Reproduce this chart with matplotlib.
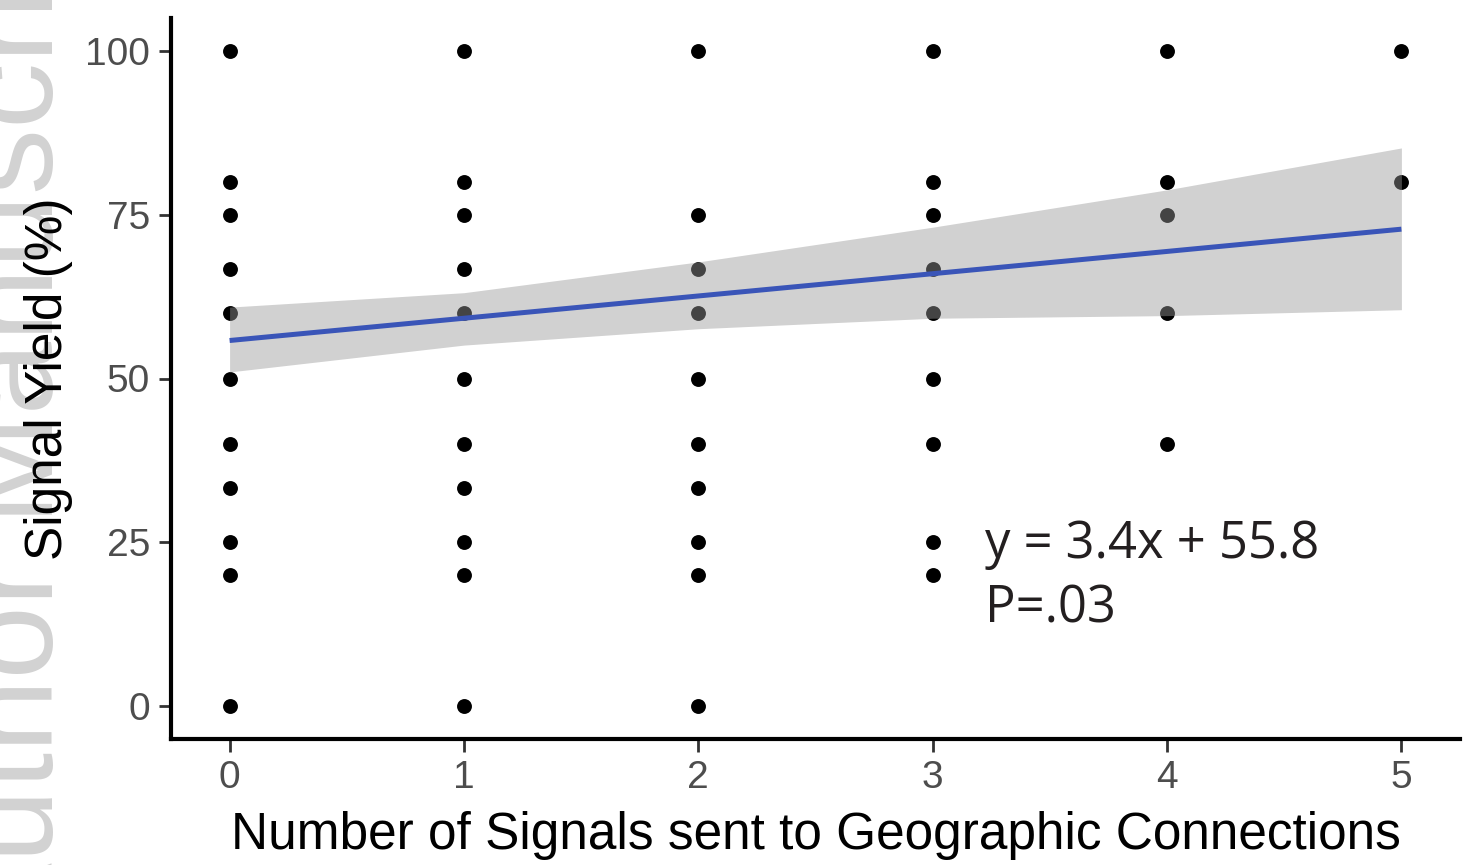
import matplotlib
matplotlib.use("Agg")
import matplotlib.pyplot as plt
import numpy as np

# ---- data ----
x0_vals = [100, 80, 75, 66.7, 60, 50, 40, 33.3, 25, 20, 0]
x1_vals = [100, 80, 75, 66.7, 60, 50, 40, 33.3, 25, 20, 0]
x2_vals = [100, 75, 66.7, 60, 50, 40, 33.3, 25, 20, 0]
x3_vals = [100, 80, 75, 66.7, 60, 50, 40, 25, 20]
x4_vals = [100, 80, 75, 60, 40]
x5_vals = [100, 80]
groups = [x0_vals, x1_vals, x2_vals, x3_vals, x4_vals, x5_vals]

fit_x = [0, 1, 2, 3, 4, 5]
slope = 3.4
intercept = 55.8
ci_upper = [60.9, 63.1, 67.8, 73.1, 78.8, 85.2]
ci_lower = [51.0, 55.1, 57.6, 59.2, 59.6, 60.5]

x_ticks = [0, 1, 2, 3, 4, 5]
y_ticks = [0, 25, 50, 75, 100]
x_label = "Number of Signals sent to Geographic Connections"
y_label = "Signal Yield (%)"
eq_line1 = "y = 3.4x + 55.8"
eq_line2 = "P=.03"
watermark = "Author Manuscript"

W, H = 1463, 865
fig = plt.figure(figsize=(W / 100, H / 100), dpi=100)
fig.patch.set_facecolor("white")

# faint watermark at the left edge, behind everything
fig.text(80 / W, 1 - 950 / H, watermark, rotation=90, ha="right", va="bottom",
         fontsize=95, color="#d2d2d2", family="Liberation Sans", zorder=-10)

ax = fig.add_axes([171 / W, 1 - 738.75 / H, 1289 / W, 720.5 / H])
ax.patch.set_alpha(0)

for xi, vals in zip(x_ticks, groups):
    ax.scatter([xi] * len(vals), vals, s=115, color="black", zorder=2, linewidths=0)

fx = np.array(fit_x, dtype=float)
ax.fill_between(fx, ci_lower, ci_upper, color="#999999", alpha=0.45, linewidth=0, zorder=3)
ax.plot(fx, slope * fx + intercept, color="#3a55b8", lw=3.6, zorder=4, solid_capstyle="butt")

ax.text(3.225, 22.6, eq_line1, fontsize=36.5, family="Open Sans", color="#231f20",
        ha="left", va="baseline", zorder=5)
ax.text(3.225, 12.8, eq_line2, fontsize=36.5, family="Open Sans", color="#231f20",
        ha="left", va="baseline", zorder=5)

ax.set_xlim(-0.25, 5.25)
ax.set_ylim(-5, 105)
ax.set_xticks(x_ticks)
ax.set_yticks(y_ticks)
ax.set_xticklabels([str(v) for v in x_ticks])
ax.set_yticklabels([str(v) for v in y_ticks])

for s in ["top", "right"]:
    ax.spines[s].set_visible(False)
for s in ["left", "bottom"]:
    ax.spines[s].set_linewidth(3)
    ax.spines[s].set_color("black")

ax.tick_params(axis="both", length=9, width=2, color="#333333", labelcolor="#4d4d4d",
               labelsize=28, pad=6)
for lab in ax.get_xticklabels() + ax.get_yticklabels():
    lab.set_family("Liberation Sans")

ax.set_xlabel(x_label, fontsize=37, family="Liberation Sans", color="black", labelpad=11)
ax.set_ylabel(y_label, fontsize=37, family="Liberation Sans", color="black", labelpad=9)

fig.savefig("out.png", dpi=100, facecolor="white")
